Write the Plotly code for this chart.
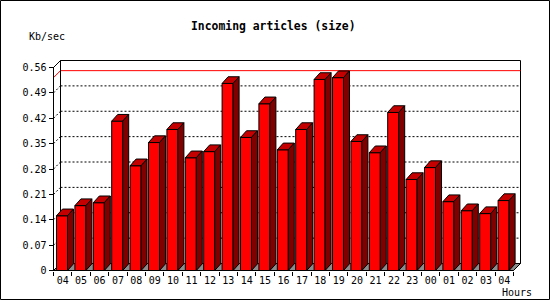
import numpy as np
import plotly.graph_objects as go

# ---------------- data ----------------
hours = ["04", "05", "06", "07", "08", "09", "10", "11", "12", "13", "14", "15", "16",
         "17", "18", "19", "20", "21", "22", "23", "00", "01", "02", "03", "04"]
kb_per_sec = [0.151, 0.179, 0.187, 0.412, 0.289, 0.353, 0.389, 0.311, 0.328, 0.516,
              0.367, 0.460, 0.333, 0.389, 0.527, 0.532, 0.356, 0.325, 0.436, 0.251,
              0.284, 0.190, 0.165, 0.157, 0.193]
y_ticks = [0, 0.07, 0.14, 0.21, 0.28, 0.35, 0.42, 0.49, 0.56]
y_ticktext = ["0"] + ["%.2f" % t for t in y_ticks[1:]]
title = "Incoming articles (size)"
y_title = "Kb/sec"
x_title = "Hours"

# ---------------- geometry ----------------
W, H = 550, 300
PX0, PXU = 53.5, 18.4      # pixel of x=0, pixels per category
PY0, PYU = 270.5, 362.5    # pixel of y=0, pixels per unit
YMAX = y_ticks[-1]
n = len(kb_per_sec)
DXW, DYW = 7 / PXU, 7 / PYU        # wall depth
DXB, DYB = 6 / PXU, 6.7 / PYU      # bar depth
BL, BR = 3 / PXU, 14 / PXU         # bar front face within category

xr = [(0 - PX0) / PXU, (W - PX0) / PXU]
yr = [(PY0 - H) / PYU, PY0 / PYU]

FONT = "DejaVu Sans Mono"
RED, TOP, SIDE, FLOOR = "#ff0000", "#c40000", "#800000", "#8c8c8c"

vals = np.array(kb_per_sec)
idx = np.arange(n)
left = idx + BL
right = idx + BR
vmax = vals.max()

fig = go.Figure()

# front faces
fig.add_trace(go.Bar(x=(left + right) / 2, y=vals, width=BR - BL, base=0,
                     marker=dict(color=RED, line=dict(color="black", width=1)),
                     hoverinfo="skip", showlegend=False))

# top faces & side faces
tx, ty, sx, sy = [], [], [], []
for l, r, v in zip(left, right, vals):
    tx += [l, r, r + DXB, l + DXB, l, None]
    ty += [v, v, v + DYB, v + DYB, v, None]
    sx += [r, r, r + DXB, r + DXB, r, None]
    sy += [0, v, v + DYB, DYB, 0, None]
fig.add_trace(go.Scatter(x=tx, y=ty, mode="lines", fill="toself", fillcolor=TOP,
                         line=dict(color="black", width=1), hoverinfo="skip", showlegend=False))
fig.add_trace(go.Scatter(x=sx, y=sy, mode="lines", fill="toself", fillcolor=SIDE,
                         line=dict(color="black", width=1), hoverinfo="skip", showlegend=False))
# dummy trace to keep tick axis alive
fig.add_trace(go.Scatter(x=[0], y=[0], xaxis="x2", mode="markers", opacity=0,
                         hoverinfo="skip", showlegend=False))

shapes = []
def line(x0, y0, x1, y1, color="black", dash=None, layer="below"):
    shapes.append(dict(type="line", xref="x", yref="y", x0=x0, y0=y0, x1=x1, y1=y1,
                       layer=layer, line=dict(color=color, width=1, dash=dash)))

# back plane
shapes.append(dict(type="rect", xref="x", yref="y", x0=DXW, y0=DYW, x1=n + DXW, y1=YMAX + DYW,
                   layer="below", fillcolor="white", line=dict(color="black", width=1)))
# grid lines (back plane + left wall)
for t in y_ticks[1:-1]:
    line(DXW, t + DYW, n + DXW, t + DYW, dash="2px,2px")
    line(0, t, DXW, t + DYW, dash="2px,2px")
# max line
line(DXW, vmax + DYW, n + DXW, vmax + DYW, color=RED)
line(0, vmax, DXW, vmax + DYW, color=RED)
# floor
shapes.append(dict(type="path", xref="x", yref="y", layer="below", fillcolor=FLOOR,
                   line=dict(color="black", width=1),
                   path=f"M0,0 L{n},0 L{n + DXW},{DYW} L{DXW},{DYW} Z"))
# left wall
line(0, 0, 0, YMAX)
line(0, YMAX, DXW, YMAX + DYW)
line(DXW, DYW, DXW, YMAX + DYW)
line(0, 0, n, 0)
# figure border
shapes.append(dict(type="rect", xref="paper", yref="paper", x0=0.5 / W, y0=0.5 / H,
                   x1=(W - 0.5) / W, y1=(H - 0.5) / H, line=dict(color="black", width=1)))

annotations = [
    dict(text=f"<b>{title}</b>", xref="paper", yref="paper", x=273.5 / W, y=1 - 26 / H,
         xanchor="center", yanchor="middle", showarrow=False,
         font=dict(family=FONT, size=11.4, color="black")),
    dict(text=y_title, xref="paper", yref="paper", x=47 / W, y=1 - 36.7 / H,
         xanchor="center", yanchor="middle", showarrow=False,
         font=dict(family=FONT, size=10, color="black")),
    dict(text=x_title, xref="paper", yref="paper", x=534 / W, y=1 - 292.5 / H,
         xanchor="right", yanchor="middle", showarrow=False,
         font=dict(family=FONT, size=10, color="black")),
]

axis_pos_y = (H - PY0) / H
fig.update_layout(
    width=W, height=H, margin=dict(l=0, r=0, t=0, b=0),
    paper_bgcolor="white", plot_bgcolor="white", showlegend=False,
    shapes=shapes, annotations=annotations,
    xaxis=dict(range=xr, tickmode="array", tickvals=idx + 0.5, ticktext=hours,
               ticks="", showgrid=False, zeroline=False, showline=False,
               anchor="free", position=axis_pos_y, fixedrange=True,
               ticklabelstandoff=2,
               tickfont=dict(family=FONT, size=10, color="black")),
    xaxis2=dict(range=xr, overlaying="x", tickmode="array", tickvals=list(range(n + 1)),
                ticks="outside", ticklen=4, tickcolor="black", showticklabels=False,
                showgrid=False, zeroline=False, showline=False,
                anchor="free", position=axis_pos_y, side="bottom", fixedrange=True),
    yaxis=dict(range=yr, tickmode="array", tickvals=y_ticks, ticktext=y_ticktext,
               ticks="outside", ticklen=5, tickcolor="black", showgrid=False,
               zeroline=False, showline=False, anchor="free", position=PX0 / W,
               fixedrange=True, tickfont=dict(family=FONT, size=10, color="black")),
)

fig.write_html("out.html")
